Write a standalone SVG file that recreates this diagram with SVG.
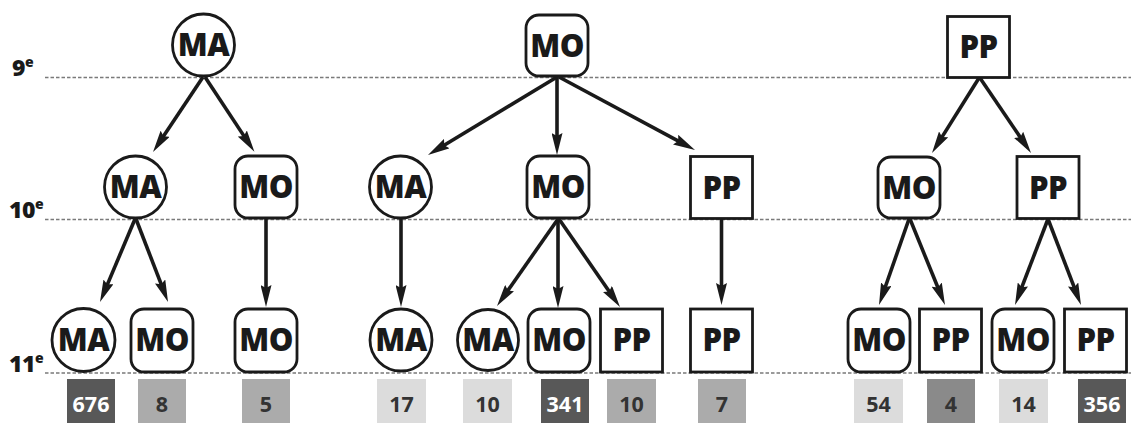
<svg xmlns="http://www.w3.org/2000/svg" width="1131" height="423" viewBox="0 0 1131 423">
<style>
.bg{fill:#ffffff}
.grid{stroke:#7a7a7a;stroke-width:1.3;stroke-dasharray:3.5 2;fill:none}
.lvl{font-family:"Open Sans","Liberation Sans",sans-serif;font-weight:800;font-size:23px;fill:#1a1a1a;letter-spacing:-0.5px}
.lvl tspan{font-size:14px}
.node{fill:#ffffff;stroke:#1a1a1a;stroke-width:2.8}
.lbl{font-family:"Open Sans","Liberation Sans",sans-serif;font-weight:800;font-size:31px;fill:#1a1a1a;text-anchor:middle;letter-spacing:-0.5px}
.arr{stroke:#1a1a1a;stroke-width:3.6;fill:none;marker-end:url(#ah)}
.cnt{font-family:"Open Sans","Liberation Sans",sans-serif;font-weight:bold;font-size:21.5px;text-anchor:middle}
.dark{fill:#585858}.mid{fill:#ababab}.mid2{fill:#8a8a8a}.light{fill:#dcdcdc}
.tw{fill:#ffffff}.tk{fill:#333333}
</style>
<defs>
<marker id="ah" markerUnits="userSpaceOnUse" markerWidth="22" markerHeight="11" refX="8" refY="5.5" orient="auto" viewBox="0 0 22 11">
<path d="M0,0 L22,5.5 L0,11 L3,5.5 z" fill="#1a1a1a"/>
</marker>
</defs>
<rect class="bg" x="0" y="0" width="1131" height="423"/>
<g id="levels">
<line class="grid" x1="45" y1="77.5" x2="1131" y2="77.5"/>
<line class="grid" x1="45" y1="219.5" x2="1131" y2="219.5"/>
<line class="grid" x1="45" y1="373" x2="1131" y2="373"/>
<text class="lvl" x="12" y="76">9<tspan dy="-9">e</tspan></text>
<text class="lvl" x="9" y="218">10<tspan dy="-9">e</tspan></text>
<text class="lvl" x="9" y="372">11<tspan dy="-9">e</tspan></text>
</g>
<g id="connectors">
<line class="arr" x1="203" y1="77" x2="160.77" y2="140.36"/>
<line class="arr" x1="205" y1="77" x2="246.69" y2="140.13"/>
<line class="arr" x1="135" y1="219" x2="105.44" y2="289.1"/>
<line class="arr" x1="136" y1="219" x2="163" y2="288.94"/>
<line class="arr" x1="266" y1="219" x2="266" y2="293"/>
<line class="arr" x1="557" y1="77" x2="439.98" y2="147.76"/>
<line class="arr" x1="557" y1="77" x2="557" y2="141"/>
<line class="arr" x1="559" y1="77" x2="682.66" y2="143.38"/>
<line class="arr" x1="401" y1="219" x2="401" y2="293"/>
<line class="arr" x1="558" y1="219" x2="505.04" y2="294.54"/>
<line class="arr" x1="558" y1="219" x2="558" y2="294"/>
<line class="arr" x1="559" y1="219" x2="612.02" y2="295.49"/>
<line class="arr" x1="721.5" y1="219" x2="721.5" y2="291"/>
<line class="arr" x1="979" y1="78" x2="939.43" y2="141.14"/>
<line class="arr" x1="980" y1="78" x2="1023.13" y2="141.42"/>
<line class="arr" x1="909" y1="219" x2="883.61" y2="291.78"/>
<line class="arr" x1="910" y1="219" x2="939.72" y2="292.03"/>
<line class="arr" x1="1048" y1="219" x2="1020.02" y2="291.93"/>
<line class="arr" x1="1048" y1="219" x2="1075.98" y2="291.93"/>
</g>
<g id="n1-ma"><circle class="node" cx="203.5" cy="45" r="31"/><text class="lbl" x="203.5" y="56">MA</text></g>
<g id="n1-mo"><rect class="node" x="526" y="15" width="62" height="61" rx="13"/><text class="lbl" x="557" y="56.5">MO</text></g>
<g id="n1-pp"><rect class="node" x="947.5" y="16.5" width="62" height="61"/><text class="lbl" x="978.5" y="58">PP</text></g>

<g id="n2-ma-ma"><circle class="node" cx="135.5" cy="187" r="31"/><text class="lbl" x="135.5" y="198">MA</text></g>
<g id="n2-ma-mo"><rect class="node" x="235" y="156" width="62" height="62" rx="13"/><text class="lbl" x="266" y="198">MO</text></g>
<g id="n2-mo-ma"><circle class="node" cx="400.5" cy="187" r="31"/><text class="lbl" x="400.5" y="198">MA</text></g>
<g id="n2-mo-mo"><rect class="node" x="527" y="156" width="62" height="62" rx="13"/><text class="lbl" x="558" y="198">MO</text></g>
<g id="n2-mo-pp"><rect class="node" x="690.5" y="156.5" width="62" height="62"/><text class="lbl" x="721.5" y="198.5">PP</text></g>
<g id="n2-pp-mo"><rect class="node" x="878" y="157" width="62" height="61" rx="13"/><text class="lbl" x="909" y="198.5">MO</text></g>
<g id="n2-pp-pp"><rect class="node" x="1017" y="156.5" width="62" height="62"/><text class="lbl" x="1048" y="198.5">PP</text></g>

<g id="n3-1"><circle class="node" cx="83.5" cy="340" r="31.5"/><text class="lbl" x="83.5" y="351">MA</text></g>
<g id="n3-2"><rect class="node" x="131" y="309" width="62" height="63" rx="13"/><text class="lbl" x="162" y="351">MO</text></g>
<g id="n3-3"><rect class="node" x="235" y="309" width="62" height="63" rx="13"/><text class="lbl" x="266" y="351">MO</text></g>
<g id="n3-4"><circle class="node" cx="401" cy="340" r="31"/><text class="lbl" x="401" y="351">MA</text></g>
<g id="n3-5"><circle class="node" cx="488" cy="340" r="30.5"/><text class="lbl" x="488" y="351">MA</text></g>
<g id="n3-6"><rect class="node" x="528" y="309" width="62" height="63" rx="13"/><text class="lbl" x="559" y="351">MO</text></g>
<g id="n3-7"><rect class="node" x="600.5" y="309" width="62" height="63"/><text class="lbl" x="631.5" y="351">PP</text></g>
<g id="n3-8"><rect class="node" x="690.5" y="309" width="62" height="63"/><text class="lbl" x="721.5" y="351">PP</text></g>
<g id="n3-9"><rect class="node" x="848" y="309" width="62" height="63" rx="13"/><text class="lbl" x="879" y="351">MO</text></g>
<g id="n3-10"><rect class="node" x="919.5" y="309" width="62" height="63"/><text class="lbl" x="950.5" y="351">PP</text></g>
<g id="n3-11"><rect class="node" x="992" y="309" width="62" height="63" rx="13"/><text class="lbl" x="1023" y="351">MO</text></g>
<g id="n3-12"><rect class="node" x="1064.5" y="309" width="62" height="63"/><text class="lbl" x="1095.5" y="351">PP</text></g>

<g id="counts">
<rect class="dark" x="67" y="379" width="48" height="50"/><text class="cnt tw" x="91" y="411.5">676</text>
<rect class="mid" x="138" y="379" width="48" height="50"/><text class="cnt tk" x="162" y="411.5">8</text>
<rect class="mid" x="242" y="379" width="48" height="50"/><text class="cnt tk" x="266" y="411.5">5</text>
<rect class="light" x="377" y="379" width="49" height="50"/><text class="cnt tk" x="401.5" y="411.5">17</text>
<rect class="light" x="463" y="379" width="49" height="50"/><text class="cnt tk" x="487.5" y="411.5">10</text>
<rect class="dark" x="541" y="379" width="48" height="50"/><text class="cnt tw" x="565" y="411.5">341</text>
<rect class="mid" x="607" y="379" width="49" height="50"/><text class="cnt tk" x="631.5" y="411.5">10</text>
<rect class="mid" x="698" y="379" width="48" height="50"/><text class="cnt tk" x="722" y="411.5">7</text>
<rect class="light" x="854" y="379" width="49" height="50"/><text class="cnt tk" x="878.5" y="411.5">54</text>
<rect class="mid2" x="927" y="379" width="48" height="50"/><text class="cnt tk" x="951" y="411.5">4</text>
<rect class="light" x="999" y="379" width="49" height="50"/><text class="cnt tk" x="1023.5" y="411.5">14</text>
<rect class="dark" x="1078" y="379" width="48" height="50"/><text class="cnt tw" x="1102" y="411.5">356</text>
</g>
</svg>
